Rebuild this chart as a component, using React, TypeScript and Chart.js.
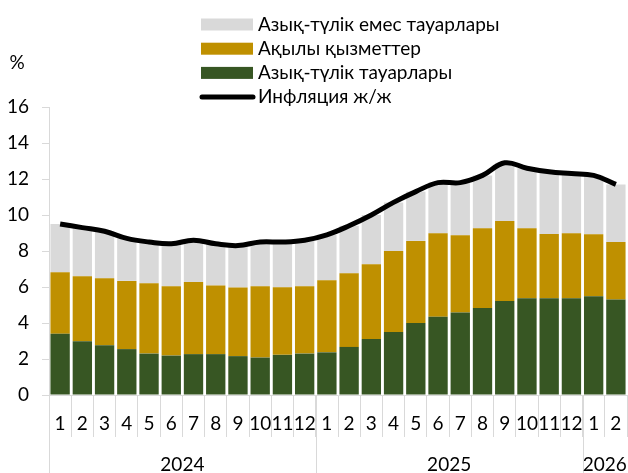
import { useEffect, useRef } from "react";
import { Chart, registerables } from "chart.js";

Chart.register(...registerables);

const monthLabels = [
  "1", "2", "3", "4", "5", "6", "7", "8", "9", "10", "11", "12",
  "1", "2", "3", "4", "5", "6", "7", "8", "9", "10", "11", "12",
  "1", "2",
];
const yearLabels = ["2024", "2025", "2026"];
const yearMonthCounts = [12, 12, 2];

const foodGoods = [
  3.40, 2.99, 2.77, 2.55, 2.30, 2.19, 2.27, 2.27, 2.16, 2.08, 2.23, 2.30,
  2.37, 2.67, 3.11, 3.50, 4.00, 4.35, 4.59, 4.83, 5.22, 5.37, 5.37, 5.37,
  5.48, 5.31,
];
const paidServices = [
  3.42, 3.61, 3.72, 3.79, 3.91, 3.85, 4.01, 3.81, 3.81, 3.96, 3.76, 3.74,
  4.00, 4.09, 4.15, 4.50, 4.56, 4.63, 4.28, 4.43, 4.45, 3.89, 3.57, 3.61,
  3.45, 3.19,
];
const nonFoodGoods = [
  2.68, 2.70, 2.61, 2.36, 2.29, 2.36, 2.32, 2.32, 2.33, 2.46, 2.51, 2.56,
  2.53, 2.64, 2.74, 2.70, 2.74, 2.82, 2.93, 2.94, 3.23, 3.34, 3.46, 3.32,
  3.27, 3.20,
];
const inflationYoY = [
  9.5, 9.3, 9.1, 8.7, 8.5, 8.4, 8.6, 8.4, 8.3, 8.5, 8.5, 8.6,
  8.9, 9.4, 10.0, 10.7, 11.3, 11.8, 11.8, 12.2, 12.9, 12.6, 12.4, 12.3,
  12.2, 11.7,
];
const yTicks = [0, 2, 4, 6, 8, 10, 12, 14, 16];

const FONT = "Lato, 'Noto Sans', sans-serif";
const FONT_SIZE = 19;
const GRAY = "#D9D9D9";
const GOLD = "#BF9000";
const GREEN = "#375623";

const legendOrder = [2, 1, 0, 3];

const customPlugin = {
  id: "custom",
  afterDraw(chart: any) {
    const ctx = chart.ctx;
    const xs = chart.scales.x;
    const area = chart.chartArea;
    const H = chart.height;
    ctx.save();
    let start = 0;
    const bounds: number[] = [area.left];
    yearMonthCounts.forEach((n) => {
      const end = start + n;
      const right =
        end >= monthLabels.length
          ? area.right
          : (xs.getPixelForValue(end - 1) + xs.getPixelForValue(end)) / 2;
      bounds.push(right);
      start = end;
    });
    ctx.strokeStyle = GRAY;
    ctx.lineWidth = 1;
    bounds.forEach((b, i) => {
      if (i === bounds.length - 1) return;
      const x = Math.round(b) + 0.5;
      ctx.beginPath();
      ctx.moveTo(x, area.bottom);
      ctx.lineTo(x, H);
      ctx.stroke();
    });
    ctx.fillStyle = "#000";
    ctx.font = `${FONT_SIZE}px ${FONT}`;
    ctx.textAlign = "center";
    ctx.textBaseline = "middle";
    yearLabels.forEach((y, i) => {
      ctx.fillText(y, (bounds[i] + bounds[i + 1]) / 2, 465);
    });
    ctx.fillText("%", 17, 63);
    const ds = chart.data.datasets;
    ctx.textAlign = "left";
    legendOrder.forEach((di, row) => {
      const d = ds[di];
      const cy = 24.5 + row * 24.2;
      if (d.type === "line") {
        ctx.strokeStyle = d.borderColor;
        ctx.lineWidth = 5;
        ctx.lineCap = "round";
        ctx.beginPath();
        ctx.moveTo(202, cy);
        ctx.lineTo(253, cy);
        ctx.stroke();
      } else {
        ctx.fillStyle = d.backgroundColor;
        ctx.fillRect(201, cy - 6, 52, 12);
      }
      ctx.fillStyle = "#000";
      ctx.fillText(d.label, 258, cy);
    });
    ctx.restore();
  },
};

export default function App() {
  const ref = useRef<HTMLCanvasElement | null>(null);
  useEffect(() => {
    document.body.style.margin = "0";
    if (!ref.current) return;
    const chart = new Chart(ref.current, {
      type: "bar",
      data: {
        labels: monthLabels,
        datasets: [
          {
            type: "bar",
            label: "Азық-түлік тауарлары",
            data: foodGoods,
            backgroundColor: GREEN,
            stack: "s",
            order: 1,
          },
          {
            type: "bar",
            label: "Ақылы қызметтер",
            data: paidServices,
            backgroundColor: GOLD,
            stack: "s",
            order: 1,
          },
          {
            type: "bar",
            label: "Азық-түлік емес тауарлары",
            data: nonFoodGoods,
            backgroundColor: GRAY,
            stack: "s",
            order: 1,
          },
          {
            type: "line",
            label: "Инфляция ж/ж",
            data: inflationYoY,
            borderColor: "#000000",
            backgroundColor: "#000000",
            borderWidth: 5,
            pointRadius: 0,
            tension: 0.4,
            stack: "l",
            order: 0,
          } as any,
        ],
      },
      options: {
        responsive: false,
        animation: false,
        events: [],
        datasets: {
          bar: { barPercentage: 0.87, categoryPercentage: 1 },
        },
        layout: { padding: { top: 107, right: 1, left: 0, bottom: 0 } },
        plugins: {
          legend: { display: false },
          tooltip: { enabled: false },
        },
        scales: {
          x: {
            stacked: true,
            afterFit: (s: any) => {
              s.height = 78;
            },
            grid: {
              offset: true,
              drawOnChartArea: false,
              drawTicks: true,
              tickLength: 42,
              color: GRAY,
            },
            border: { display: true, color: GRAY },
            ticks: {
              padding: -25,
              color: "#000",
              font: { family: FONT, size: FONT_SIZE },
              maxRotation: 0,
              autoSkip: false,
            },
          },
          y: {
            stacked: true,
            min: 0,
            max: 16,
            afterFit: (s: any) => {
              s.width = 49;
            },
            afterBuildTicks: (s: any) => {
              s.ticks = yTicks.map((v) => ({ value: v }));
            },
            grid: {
              drawOnChartArea: false,
              drawTicks: true,
              tickLength: 7,
              color: GRAY,
            },
            border: { display: true, color: GRAY },
            ticks: {
              padding: 13,
              color: "#000",
              font: { family: FONT, size: FONT_SIZE },
            },
          },
        },
      },
      plugins: [customPlugin],
    });
    return () => chart.destroy();
  }, []);
  return (
    <div style={{ width: 628, height: 473 }}>
      <canvas ref={ref} width={628} height={473} />
    </div>
  );
}
